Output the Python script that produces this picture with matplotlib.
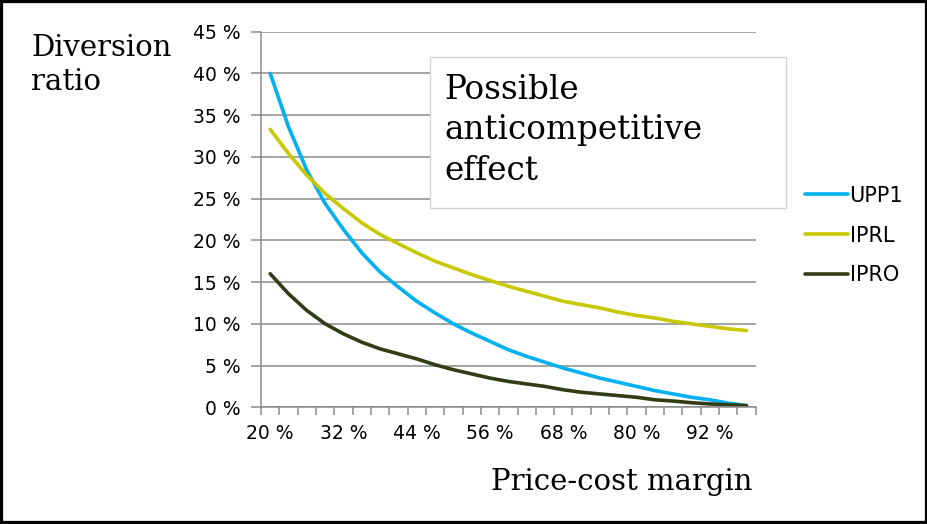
import matplotlib
matplotlib.use("Agg")
import matplotlib.pyplot as plt
from matplotlib.patches import Rectangle
import numpy as np

# price-cost margin categories (%)
margin = [20, 23, 26, 29, 32, 35, 38, 41, 44, 47, 50, 53, 56, 59,
          62, 65, 68, 71, 74, 77, 80, 83, 86, 89, 92, 95, 98]

# diversion ratio (%)
upp1 = [40.0, 33.6, 28.4, 24.4, 21.3, 18.5, 16.2, 14.4, 12.7, 11.3, 10.0, 8.9, 7.9, 6.9,
        6.1, 5.4, 4.7, 4.1, 3.5, 3.0, 2.5, 2.0, 1.6, 1.2, 0.9, 0.5, 0.2]
iprl = [33.3, 30.4, 27.8, 25.6, 23.8, 22.1, 20.7, 19.6, 18.5, 17.5, 16.7, 15.9, 15.2, 14.5,
        13.9, 13.3, 12.7, 12.3, 11.9, 11.4, 11.0, 10.7, 10.3, 10.0, 9.7, 9.4, 9.2]
ipro = [16.0, 13.6, 11.6, 10.0, 8.8, 7.8, 7.0, 6.4, 5.8, 5.1, 4.5, 4.0, 3.5, 3.1,
        2.8, 2.5, 2.1, 1.8, 1.6, 1.4, 1.2, 0.9, 0.75, 0.55, 0.4, 0.3, 0.2]

series = [("UPP1", upp1, "#00b0f0"),
          ("IPRL", iprl, "#c8c800"),
          ("IPRO", ipro, "#313d14")]

fig = plt.figure(figsize=(9.28, 5.24), dpi=100)
ax = fig.add_axes([0.2813, 0.2227, 0.533, 0.7168])

x = np.arange(len(margin))
for name, vals, col in series:
    ax.plot(x, vals, color=col, lw=2.6, label=name, solid_capstyle="round")

ax.set_xlim(-0.5, len(margin) - 0.5)
ax.set_ylim(0, 45)

grid_col = "#8c8c8c"
ax.set_yticks(range(0, 46, 5))
ax.set_yticklabels([f"{v} %" for v in range(0, 46, 5)], fontsize=13.5)
ax.yaxis.grid(True, color=grid_col, lw=1.1)
ax.set_axisbelow(True)

ax.set_xticks(x[::4])
ax.set_xticklabels([f"{m} %" for m in margin[::4]], fontsize=13.5)
ax.set_xticks(np.arange(len(margin) + 1) - 0.5, minor=True)
ax.tick_params(axis="x", which="major", length=0, pad=12)
ax.tick_params(axis="x", which="minor", length=6, color=grid_col, width=1.1)
ax.tick_params(axis="y", length=7, color=grid_col, width=1.1, pad=8)

for s in ["top", "right"]:
    ax.spines[s].set_visible(False)
for s in ["left", "bottom"]:
    ax.spines[s].set_color(grid_col)
    ax.spines[s].set_linewidth(1.1)

# axis titles
fig.text(31 / 928, 1 - 34 / 524, "Diversion\nratio", family="DejaVu Serif",
         fontsize=21, va="top", ha="left", linespacing=1.25)
fig.text(752 / 928, 1 - 490 / 524, "Price-cost margin", family="DejaVu Serif",
         fontsize=21, va="baseline", ha="right")

# annotation box
fig.patches.append(Rectangle((430 / 928, 1 - 208 / 524), 356 / 928, 151 / 524,
                             transform=fig.transFigure, facecolor="white",
                             edgecolor="#d4d4d4", lw=1, zorder=5))
fig.text(444 / 928, 1 - 74 / 524, "Possible\nanticompetitive\neffect",
         family="DejaVu Serif", fontsize=23.5, va="top", ha="left",
         linespacing=1.33, zorder=6)

ax.legend(loc="upper left", bbox_to_anchor=(786 / 928, 1 - 167 / 524),
          bbox_transform=fig.transFigure, frameon=False, fontsize=15,
          handlelength=2.1, handletextpad=0.05, labelspacing=0.95)

# outer frame
fig.patches.append(Rectangle((0, 0), 1, 1, transform=fig.transFigure,
                             fill=False, edgecolor="black", lw=4.5, zorder=10))

fig.savefig("out.png", dpi=100)
